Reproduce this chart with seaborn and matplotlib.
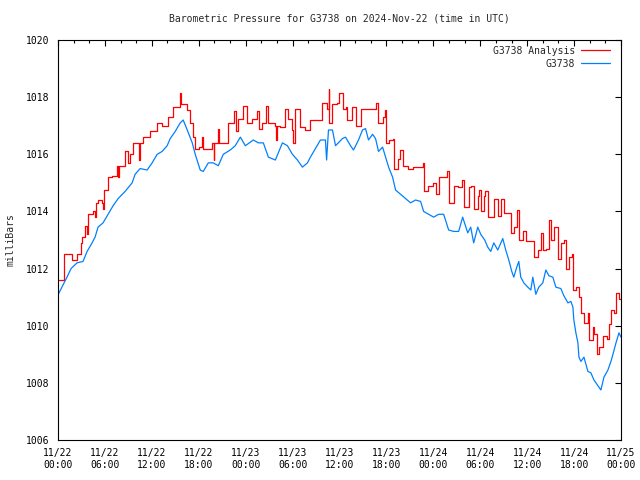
import pandas as pd
import matplotlib
matplotlib.use("Agg")
import matplotlib.pyplot as plt
import matplotlib.dates as mdates
import seaborn as sns

# Data: hours since 2024-11-22 00:00 UTC, pressure in mb
analysis_hours = [0.0, 0.75, 1.8, 2.4, 2.95, 3.1, 3.45, 3.7, 3.85, 4.5, 4.75, 4.8, 5.1, 5.6, 5.7,
                  5.9, 6.4, 6.9, 7.55, 7.7, 7.8, 8.6, 8.9, 9.2, 9.6, 10.25, 10.4, 10.5, 10.9, 11.8,
                  12.7, 13.3, 13.7, 14.1, 14.7, 15.6, 15.7, 16.5, 16.9, 17.3, 17.55, 18.0, 18.45,
                  18.6, 19.7, 19.9, 20.0, 20.5, 20.6, 21.4, 21.8, 22.55, 22.7, 23.06, 23.7, 24.2,
                  24.85, 25.5, 25.7, 26.1, 26.65, 26.9, 27.8, 27.9, 28.0, 28.44, 29.08, 29.46,
                  29.98, 30.1, 30.36, 31.0, 31.64, 32.28, 32.92, 33.82, 34.46, 34.6, 34.7, 35.1,
                  35.74, 35.9, 36.5, 36.77, 37.0, 37.66, 38.05, 38.1, 38.69, 39.59, 40.23, 40.61,
                  40.87, 41.51, 41.76, 41.89, 42.28, 42.79, 42.92, 43.43, 43.68, 44.07, 44.71,
                  45.35, 45.99, 46.63, 46.76, 47.27, 47.91, 48.3, 48.68, 49.19, 49.71, 49.96,
                  50.47, 50.6, 51.11, 51.63, 51.88, 52.4, 52.52, 52.78, 53.16, 53.68, 53.8, 54.06,
                  54.45, 54.57, 54.96, 55.6, 55.73, 56.24, 56.62, 57.01, 57.65, 57.9, 58.29, 58.67,
                  58.93, 59.44, 59.83, 60.47, 60.85, 61.36, 61.75, 62.0, 62.39, 62.77, 63.03,
                  63.41, 63.92, 64.31, 64.69, 64.95, 65.33, 65.72, 65.85, 66.23, 66.62, 66.87,
                  67.26, 67.77, 67.9, 68.41, 68.54, 68.92, 69.18, 69.69, 70.2, 70.46, 70.71,
                  71.1, 71.36, 71.74, 72.0]
analysis_mb = [1011.6, 1012.5, 1012.3, 1012.5, 1012.9, 1013.1, 1013.5, 1013.2, 1013.9, 1014.0,
               1013.8, 1014.3, 1014.4, 1014.3, 1014.1, 1014.75, 1015.2, 1015.25, 1015.6, 1015.2,
               1015.6, 1016.1, 1015.7, 1016.0, 1016.4, 1016.4, 1015.8, 1016.4, 1016.6, 1016.8,
               1017.1, 1017.0, 1017.0, 1017.3, 1017.65, 1018.15, 1017.75, 1017.55, 1017.1,
               1016.6, 1016.2, 1016.25, 1016.6, 1016.2, 1016.4, 1015.8, 1016.4, 1016.9, 1016.4,
               1016.4, 1017.1, 1017.5, 1016.8, 1017.25, 1017.7, 1017.1, 1017.25, 1017.5, 1016.9,
               1017.1, 1017.7, 1017.1, 1017.0, 1016.5, 1017.0, 1016.95, 1017.6, 1017.25, 1016.85,
               1016.4, 1017.6, 1016.95, 1016.85, 1017.2, 1017.2, 1017.8, 1017.6, 1018.3, 1017.1,
               1017.75, 1017.8, 1018.15, 1017.6, 1017.65, 1017.2, 1017.65, 1017.5, 1017.0,
               1017.6, 1017.6, 1017.6, 1017.8, 1017.1, 1017.3, 1017.55, 1016.4, 1016.5, 1016.55,
               1015.5, 1015.85, 1016.15, 1015.6, 1015.5, 1015.55, 1015.55, 1015.7, 1014.7,
               1014.9, 1015.0, 1014.6, 1015.2, 1015.2, 1015.4, 1014.3, 1014.3, 1014.9, 1014.85,
               1015.1, 1014.15, 1014.15, 1014.85, 1014.9, 1014.1, 1014.55, 1014.75, 1014.0,
               1014.55, 1014.7, 1013.8, 1013.8, 1014.45, 1013.85, 1014.45, 1013.95, 1013.95,
               1013.25, 1013.45, 1014.05, 1013.0, 1013.3, 1012.95, 1012.95, 1012.4, 1012.65,
               1013.25, 1012.65, 1012.7, 1013.7, 1013.0, 1013.45, 1012.35, 1012.9, 1013.0,
               1012.0, 1012.4, 1012.5, 1011.25, 1011.35, 1011.0, 1010.45, 1010.1, 1010.45,
               1009.5, 1009.95, 1009.7, 1009.0, 1009.25, 1009.65, 1009.55, 1010.05, 1010.55,
               1010.45, 1011.15, 1010.95, 1010.95]

station_hours = [0.0, 0.5, 1.15, 1.67, 2.43, 3.2, 3.72, 4.36, 4.74, 5.12, 5.76, 6.41, 7.05, 7.69,
                 8.58, 9.48, 9.86, 10.5, 11.4, 12.04, 12.68, 13.32, 13.96, 14.35, 14.99, 15.63,
                 16.01, 16.53, 17.17, 17.55, 18.19, 18.58, 19.22, 19.86, 20.5, 21.14, 22.03,
                 22.67, 23.32, 23.96, 24.98, 25.62, 26.26, 26.9, 27.8, 28.7, 29.34, 29.98, 30.62,
                 31.26, 31.9, 32.28, 32.92, 33.56, 34.2, 34.35, 34.59, 35.1, 35.49, 36.38, 36.77,
                 37.41, 37.79, 38.43, 38.94, 39.33, 39.71, 40.23, 40.61, 40.99, 41.51, 41.89,
                 42.28, 42.79, 43.17, 43.81, 44.45, 45.09, 45.73, 46.37, 46.76, 47.4, 48.04,
                 48.68, 49.32, 49.96, 50.6, 51.24, 51.75, 52.4, 52.78, 53.16, 53.68, 54.06, 54.57,
                 54.96, 55.34, 55.73, 56.24, 56.88, 57.26, 57.65, 58.03, 58.29, 58.67, 58.93,
                 59.18, 59.57, 60.08, 60.47, 60.72, 61.11, 61.49, 62.0, 62.39, 62.77, 63.28,
                 63.67, 64.31, 64.69, 65.21, 65.59, 65.85, 65.97, 66.23, 66.49, 66.62, 66.87,
                 67.26, 67.77, 68.15, 68.54, 69.05, 69.43, 69.82, 70.33, 70.71, 70.97, 71.36,
                 71.74, 72.0]
station_mb = [1011.08, 1011.35, 1011.7, 1012.0, 1012.2, 1012.25, 1012.6, 1012.9, 1013.1, 1013.45,
              1013.6, 1013.9, 1014.2, 1014.45, 1014.7, 1015.0, 1015.3, 1015.5, 1015.45, 1015.7,
              1016.0, 1016.1, 1016.3, 1016.55, 1016.8, 1017.1, 1017.2, 1016.85, 1016.4, 1016.0,
              1015.45, 1015.4, 1015.7, 1015.7, 1015.6, 1016.0, 1016.15, 1016.3, 1016.6, 1016.3,
              1016.5, 1016.4, 1016.4, 1015.9, 1015.8, 1016.4, 1016.3, 1016.0, 1015.8, 1015.55,
              1015.7, 1015.9, 1016.2, 1016.5, 1016.5, 1015.8, 1016.85, 1016.85, 1016.3, 1016.55,
              1016.6, 1016.3, 1016.15, 1016.5, 1016.85, 1016.9, 1016.5, 1016.7, 1016.55, 1016.1,
              1016.25, 1015.9, 1015.55, 1015.2, 1014.75, 1014.6, 1014.45, 1014.3, 1014.4,
              1014.35, 1014.0, 1013.9, 1013.8, 1013.9, 1013.9, 1013.35, 1013.3, 1013.3, 1013.8,
              1013.25, 1013.45, 1012.9, 1013.45, 1013.2, 1013.0, 1012.75, 1012.6, 1012.9,
              1012.65, 1013.05, 1012.65, 1012.3, 1011.9, 1011.7, 1012.05, 1012.25, 1011.7,
              1011.5, 1011.35, 1011.25, 1011.7, 1011.1, 1011.35, 1011.5, 1011.95, 1011.75,
              1011.7, 1011.35, 1011.3, 1011.05, 1010.8, 1010.85, 1010.65, 1010.2, 1009.75,
              1009.4, 1008.9, 1008.75, 1008.9, 1008.4, 1008.35, 1008.1, 1007.9, 1007.75,
              1008.2, 1008.45, 1008.75, 1009.0, 1009.4, 1009.75, 1009.6]

start = pd.Timestamp("2024-11-22 00:00")
df_a = pd.DataFrame({"time": start + pd.to_timedelta(analysis_hours, unit="h"), "mb": analysis_mb})
df_s = pd.DataFrame({"time": start + pd.to_timedelta(station_hours, unit="h"), "mb": station_mb})

sns.set_style("white")
plt.rcParams["font.family"] = ["DejaVu Sans Mono", "DejaVu Sans"]
plt.rcParams["font.size"] = 7

fig = plt.figure(figsize=(6.4, 4.8), dpi=100)
ax = fig.add_axes([58 / 640, 40 / 480, 563 / 640, 400 / 480])

sns.lineplot(data=df_a, x="time", y="mb", color="#ff0000", linewidth=0.9,
             drawstyle="steps-post", label="G3738 Analysis", ax=ax)
sns.lineplot(data=df_s, x="time", y="mb", color="#0080ff", linewidth=0.9,
             label="G3738", ax=ax)

ax.set_xlim(start, start + pd.Timedelta(hours=72))
ax.set_ylim(1006, 1020)
ax.set_yticks(range(1006, 1021, 2))
ax.xaxis.set_major_locator(mdates.HourLocator(byhour=range(0, 24, 6)))
ax.xaxis.set_minor_locator(mdates.HourLocator(byhour=range(0, 24, 2)))
ax.xaxis.set_major_formatter(mdates.DateFormatter("%m/%d\n%H:%M"))
ax.tick_params(which="both", direction="in", top=True, right=True, colors="black",
               labelsize=7, width=0.8)
ax.tick_params(which="major", length=4, pad=6)
ax.tick_params(which="minor", length=2.5)
for s in ax.spines.values():
    s.set_color("black")
    s.set_linewidth(0.8)

ax.set_title("Barometric Pressure for G3738 on 2024-Nov-22 (time in UTC)", fontsize=7, pad=13)
ax.set_xlabel("")
ax.set_ylabel("milliBars", fontsize=7, labelpad=8)

ax.legend(loc="upper right", bbox_to_anchor=(1 - 4 / 563, 1 + 1 / 400),
          frameon=False, markerfirst=False, fontsize=7,
          handlelength=3.0, handletextpad=0.6, labelspacing=0.3,
          borderaxespad=0.4, borderpad=0.3)

fig.savefig("out.png", dpi=100)
